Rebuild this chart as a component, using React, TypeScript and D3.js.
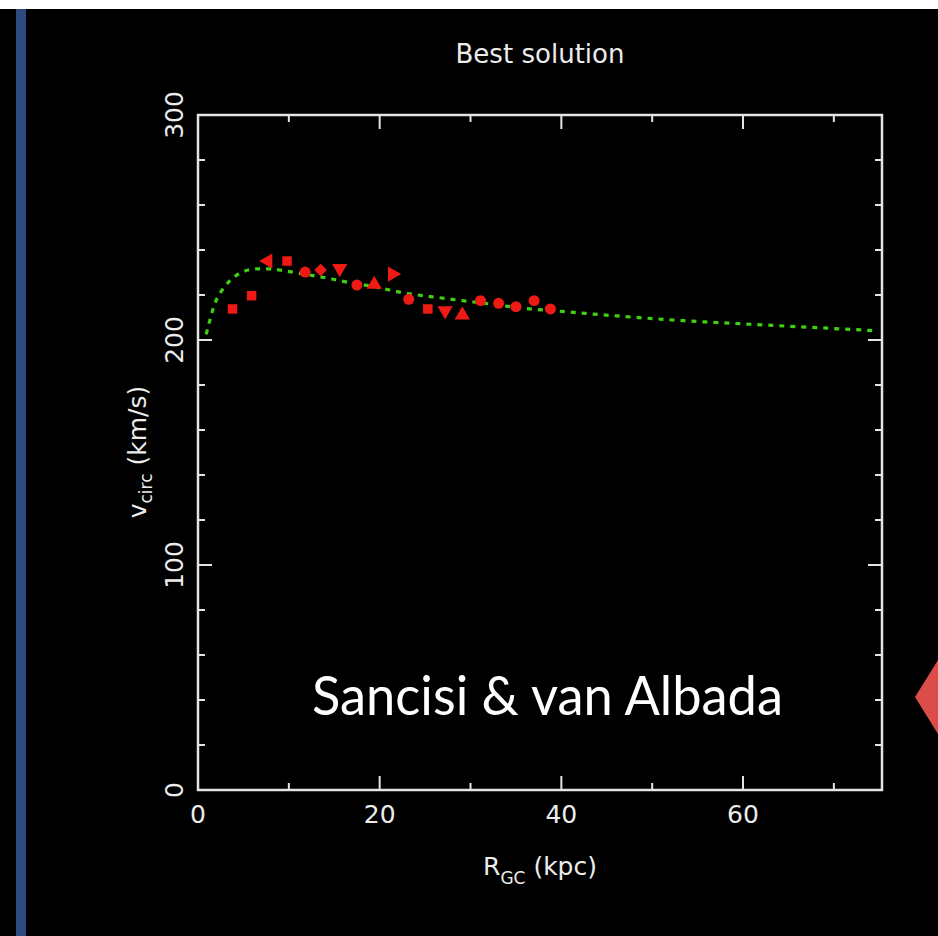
import React from "react";
import * as d3 from "d3";

// ---- data ----
const obsR = [3.8, 5.9, 7.7, 9.8, 11.8, 13.5, 15.6, 17.5, 19.4, 21.4, 23.2, 25.3, 27.2, 29.1, 31.1, 33.1, 35.0, 37.0, 38.8];
const obsV = [213.8, 219.7, 235.1, 235.1, 230.2, 231.1, 231.8, 224.4, 224.7, 229.3, 218.1, 213.8, 213.0, 211.1, 217.5, 216.3, 214.8, 217.5, 213.8];
const obsShape = ["square", "square", "triLeft", "square", "circle", "diamond", "triDown", "circle", "triUp", "triRight", "circle", "square", "triDown", "triUp", "circle", "circle", "circle", "circle", "circle"];

const modelR = [0.9, 1.9, 3.0, 4.0, 5.0, 6.4, 7.9, 9.0, 10.8, 13.0, 14.9, 16.7, 19.0, 21.1, 23.0, 25.6, 28.5, 32.2, 35.8, 39.5, 46.1, 53.4, 60.8, 68.1, 74.7];
const modelV = [202.5, 216.6, 224.0, 228.1, 230.4, 231.6, 231.6, 231.1, 229.9, 228.4, 227.0, 225.5, 224.0, 222.2, 220.7, 219.3, 217.8, 216.0, 214.1, 212.9, 210.7, 208.6, 207.0, 205.5, 204.1];

const xMajorTicks = [0, 20, 40, 60];
const xMinorTicks = [10, 30, 50, 70];
const yMajorTicks = [0, 100, 200, 300];
const yMinorTicks = [20, 40, 60, 80, 120, 140, 160, 180, 220, 240, 260, 280];

const W = 938;
const H = 936;
const left = 198, right = 882, top = 115, bottom = 790;

export default function App() {
  const x = d3.scaleLinear().domain([0, 75.3]).range([left, right]);
  const y = d3.scaleLinear().domain([0, 300]).range([bottom, top]);

  const line = d3
    .line<number>()
    .x((_, i) => x(modelR[i]))
    .y((d) => y(d))
    .curve(d3.curveMonotoneX);

  const symFor = (s: string) => {
    if (s === "square") return { path: d3.symbol().type(d3.symbolSquare).size(90)()!, rot: 0 };
    if (s === "circle") return { path: d3.symbol().type(d3.symbolCircle).size(95)()!, rot: 0 };
    if (s === "diamond") return { path: d3.symbol().type(d3.symbolSquare).size(80)()!, rot: 45 };
    const tri = d3.symbol().type(d3.symbolTriangle).size(100)()!;
    if (s === "triUp") return { path: tri, rot: 0 };
    if (s === "triDown") return { path: tri, rot: 180 };
    if (s === "triLeft") return { path: tri, rot: -90 };
    return { path: tri, rot: 90 };
  };

  const axisColor = "#e4e4e4";
  const font = "'DejaVu Sans', sans-serif";
  const fs = 25;
  const maj = 14, min = 7;

  return (
    <svg
      width={W}
      height={H}
      style={{ position: "absolute", left: 0, top: 0, display: "block" }}
    >
      <rect x={0} y={0} width={W} height={H} fill="#000" />
      <rect x={0} y={0} width={W} height={9} fill="#fff" />
      <rect x={16} y={9} width={10} height={H - 9} fill="#2b4a7e" />
      <polygon points={`915,697 ${W + 5},652 ${W + 5},742`} fill="#db4d48" />

      {/* title */}
      <text x={540} y={63} fill="#ececec" fontFamily={font} fontSize={26} textAnchor="middle" textLength={169} lengthAdjust="spacingAndGlyphs">
        Best solution
      </text>

      {/* frame */}
      <rect x={left} y={top} width={right - left} height={bottom - top} fill="none" stroke={axisColor} strokeWidth={2.5} />

      {/* x ticks */}
      {xMajorTicks.concat(xMinorTicks).map((t) => {
        const len = xMajorTicks.includes(t) ? maj : min;
        return (
          <g key={"xt" + t} stroke={axisColor} strokeWidth={2}>
            <line x1={x(t)} x2={x(t)} y1={bottom} y2={bottom - len} />
            <line x1={x(t)} x2={x(t)} y1={top} y2={top + len} />
          </g>
        );
      })}
      {/* y ticks */}
      {yMajorTicks.concat(yMinorTicks).map((t) => {
        const len = yMajorTicks.includes(t) ? maj : min;
        return (
          <g key={"yt" + t} stroke={axisColor} strokeWidth={2}>
            <line x1={left} x2={left + len} y1={y(t)} y2={y(t)} />
            <line x1={right} x2={right - len} y1={y(t)} y2={y(t)} />
          </g>
        );
      })}

      {/* x tick labels */}
      {xMajorTicks.map((t) => (
        <text key={"xl" + t} x={x(t)} y={823} fill="#ececec" fontFamily={font} fontSize={fs} textAnchor="middle">
          {t}
        </text>
      ))}
      {/* y tick labels */}
      {yMajorTicks.map((t) => (
        <text key={"yl" + t} transform={`translate(183,${y(t)}) rotate(-90)`} fill="#ececec" fontFamily={font} fontSize={fs} textAnchor="middle">
          {t}
        </text>
      ))}

      {/* axis titles */}
      <text x={540} y={875} fill="#ececec" fontFamily={font} fontSize={fs} textAnchor="middle">
        R<tspan fontSize={17} dy={9}>GC</tspan>
        <tspan dy={-9}> (kpc)</tspan>
      </text>
      <text transform={`translate(146,452) rotate(-90)`} fill="#ececec" fontFamily={font} fontSize={fs} textAnchor="middle">
        v<tspan fontSize={17} dy={6}>circ</tspan>
        <tspan dy={-6}> (km/s)</tspan>
      </text>

      {/* model curve */}
      <path d={line(modelV) || ""} fill="none" stroke="#3fd010" strokeWidth={3.2} strokeDasharray="5 6" />

      {/* observed points */}
      {obsR.map((r, i) => {
        const s = symFor(obsShape[i]);
        return (
          <path key={"p" + i} d={s.path} transform={`translate(${x(r)},${y(obsV[i])}) rotate(${s.rot})`} fill="#f01a14" />
        );
      })}

      <text x={312} y={715} fill="#ffffff" fontFamily="Lato, 'Open Sans', sans-serif" fontSize={54} textLength={471} lengthAdjust="spacingAndGlyphs">
        Sancisi &amp; van Albada
      </text>
    </svg>
  );
}
